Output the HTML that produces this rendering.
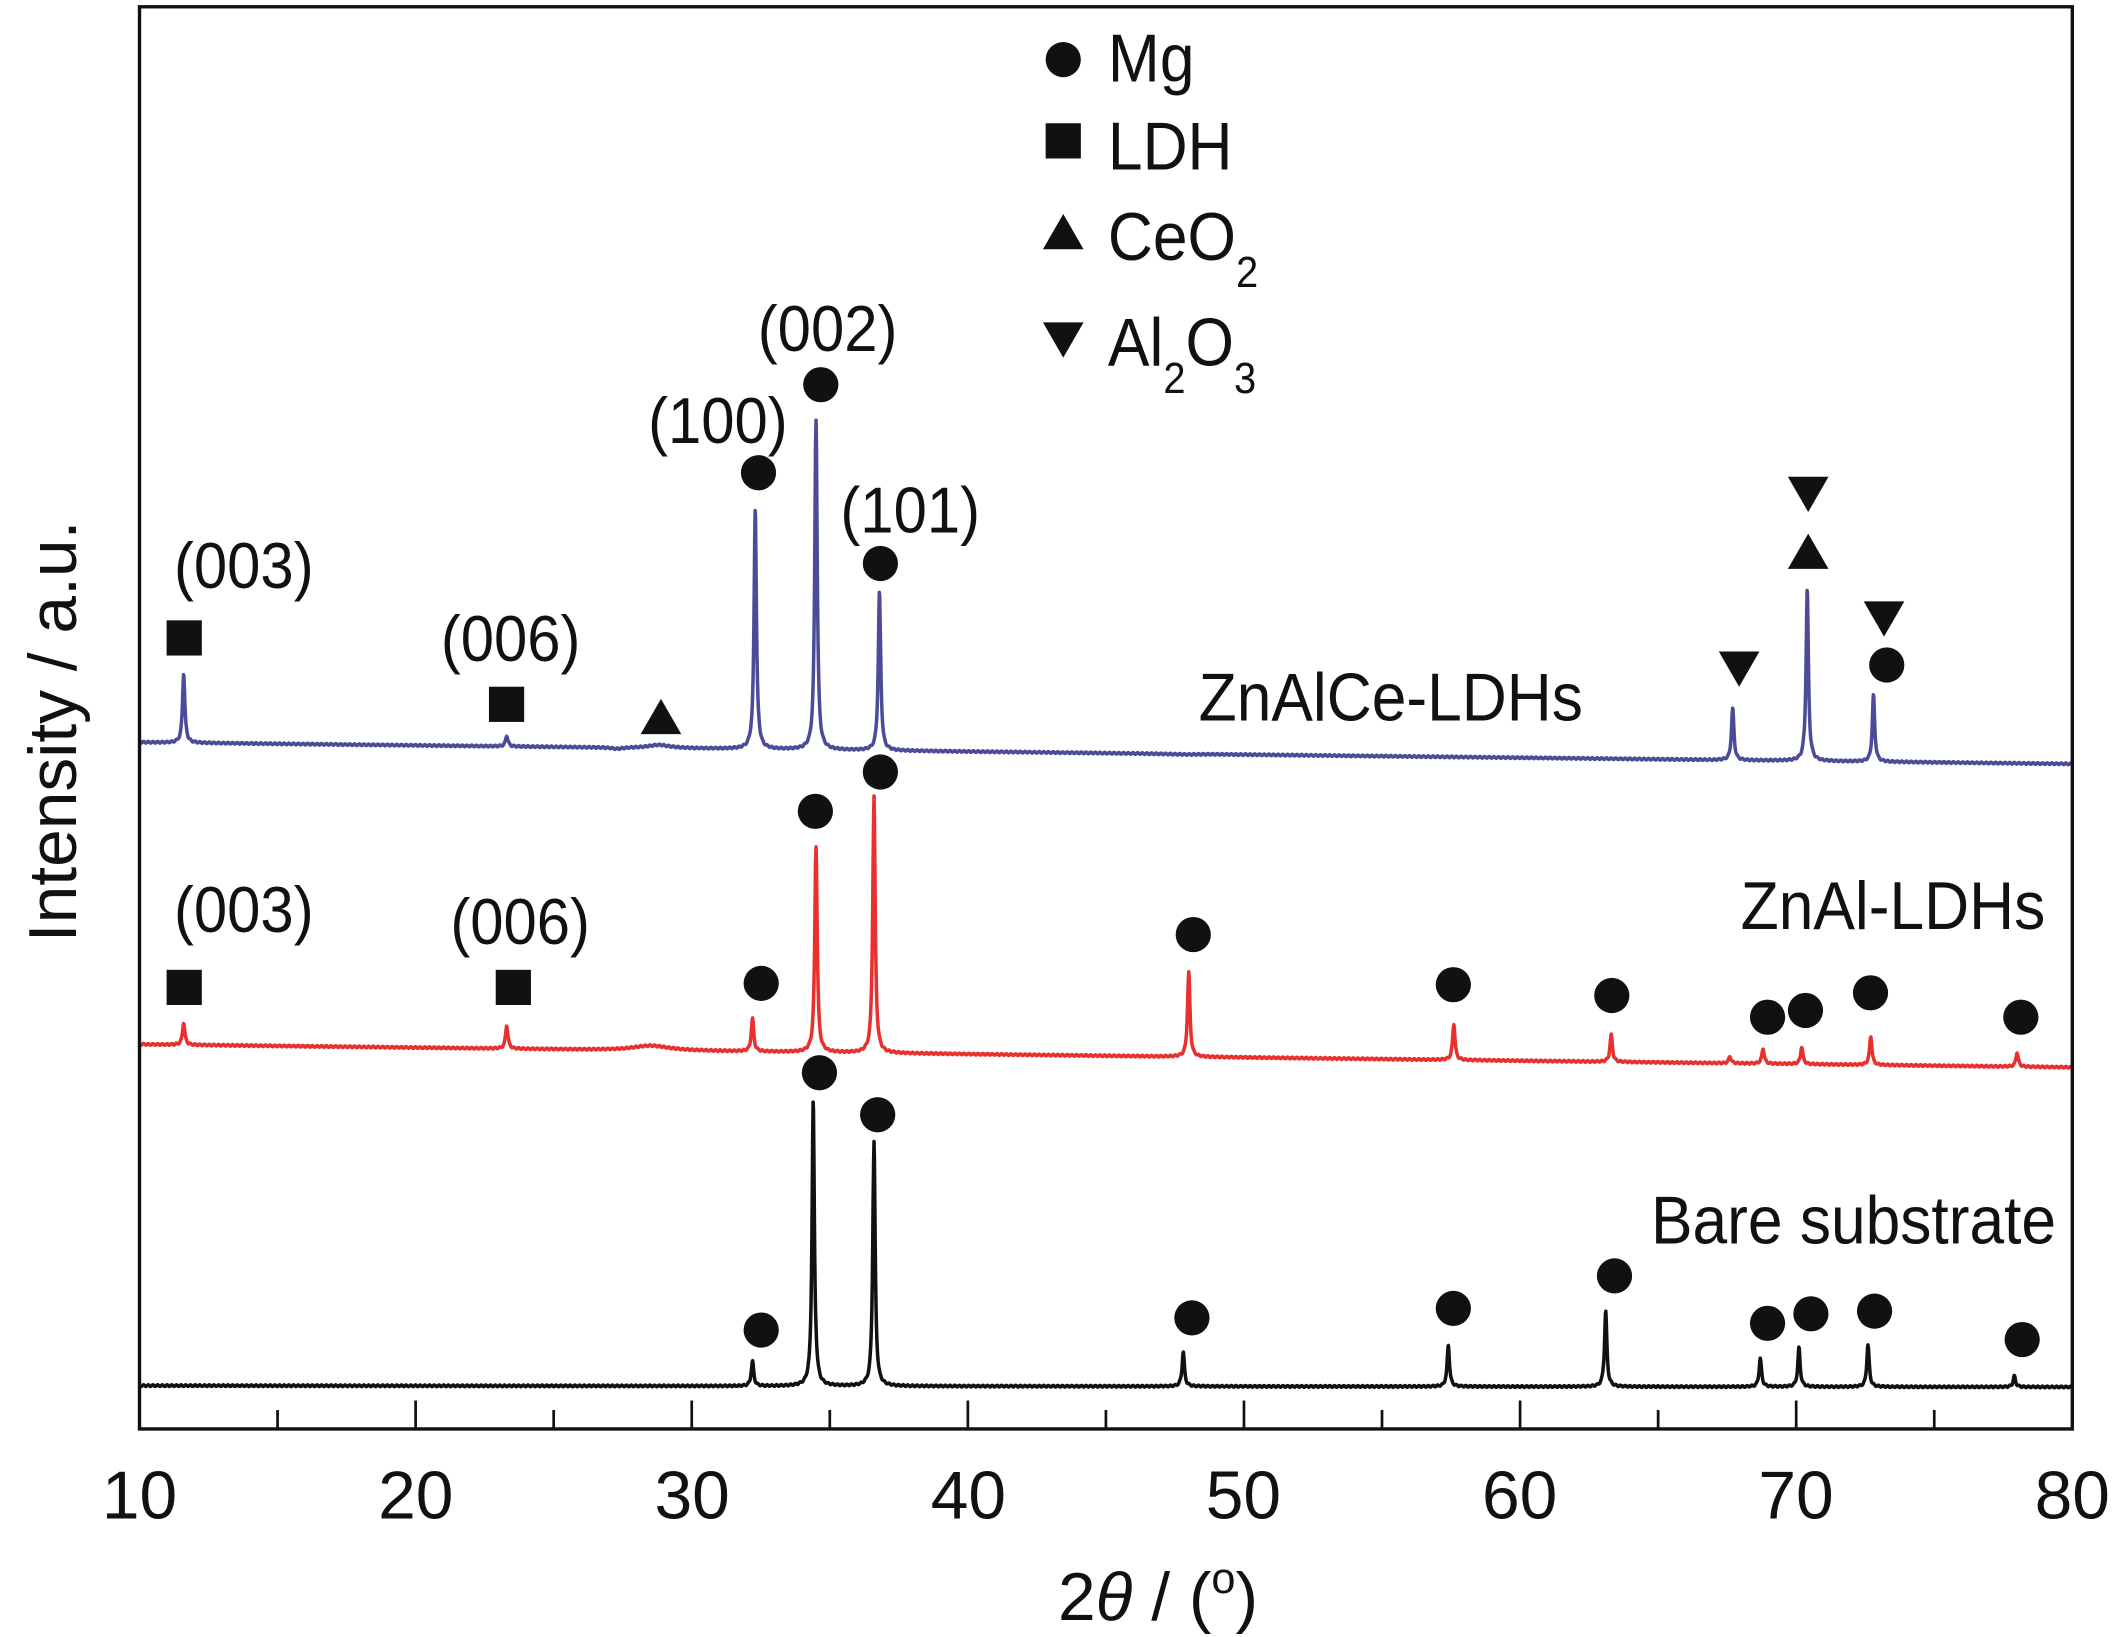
<!DOCTYPE html>
<html><head><meta charset="utf-8"><style>
html,body{margin:0;padding:0;background:#fff;}
svg{display:block;}
text{font-family:"Liberation Sans Narrow","Liberation Sans",sans-serif;fill:#111;}
</style></head><body>
<svg id="s" width="2117" height="1637" viewBox="0 0 1563 1208.6" xmlns="http://www.w3.org/2000/svg">
<rect x="0" y="0" width="1563" height="1209" fill="#fff"/>
<g id="curves"></g>
<rect x="103" y="5" width="1427" height="1050" fill="none" stroke="#111" stroke-width="2.5"/>
<g id="ticks" stroke="#111" stroke-width="2"></g>
<g font-size="50" text-anchor="middle">
<text x="103" y="1121">10</text><text x="307" y="1121">20</text><text x="511" y="1121">30</text><text x="715" y="1121">40</text><text x="918" y="1121">50</text><text x="1122" y="1121">60</text><text x="1326" y="1121">70</text><text x="1530" y="1121">80</text>
<text x="855" y="1196">2<tspan font-style="italic">θ</tspan> / (<tspan dy="-20" font-size="32">o</tspan><tspan dy="20">)</tspan></text>
<text transform="translate(56,540) rotate(-90)">Intensity / a.u.</text>
</g>
<g font-size="48" text-anchor="middle">
<text transform="translate(180,434) scale(0.92,1)">(003)</text><text transform="translate(377,488) scale(0.92,1)">(006)</text>
<text transform="translate(530,327) scale(0.92,1)">(100)</text><text transform="translate(611,259) scale(0.92,1)">(002)</text><text transform="translate(672,393) scale(0.92,1)">(101)</text>
<text transform="translate(180,688) scale(0.92,1)">(003)</text><text transform="translate(384,697) scale(0.92,1)">(006)</text>
</g>
<g font-size="50">
<text transform="translate(885,532) scale(0.92,1)">ZnAlCe-LDHs</text>
<text transform="translate(1510,686) scale(0.92,1)" text-anchor="end">ZnAl-LDHs</text>
<text transform="translate(1518,918) scale(0.92,1)" text-anchor="end">Bare substrate</text>
<text transform="translate(818,60) scale(0.92,1)">Mg</text>
<text transform="translate(818,125) scale(0.92,1)">LDH</text>
<text transform="translate(818,192) scale(0.92,1)">CeO<tspan dy="20" font-size="32">2</tspan></text>
<text transform="translate(818,270) scale(0.92,1)">Al<tspan dy="20" font-size="32">2</tspan><tspan dy="-20">O</tspan><tspan dy="20" font-size="32">3</tspan></text>
</g>
<g id="marks" fill="#111"></g>
</svg>
<script>
var NS="http://www.w3.org/2000/svg";
function X(t){return 103+(t-10)*1427/70;}
function el(p,n,a){var e=document.createElementNS(NS,n);for(var k in a)e.setAttribute(k,a[k]);p.appendChild(e);return e;}
var tk=document.getElementById('ticks');
for(var t=15;t<80;t+=5){var L=(t%10==0)?21:14;el(tk,'line',{x1:X(t),x2:X(t),y1:1055,y2:1055-L});}
function curve(b0,b1,peaks,col){
 var d="";
 for(var t=10.05;t<=80;t+=0.015){
  var b=b0+(b1-b0)*(t-10)/70;var y=b;
  for(var i=0;i<peaks.length;i++){var p=peaks[i];var w=p[2]||0.065;var u=(t-p[0])/w;y-=(b-p[1])/(1+u*u*1.6);}
  y+=Math.sin(t*37)*0.6;
  d+=(d?"L":"M")+X(t).toFixed(1)+","+y.toFixed(1);
 }
 el(document.getElementById('curves'),'path',{d:d,fill:'none',stroke:col,'stroke-width':2.6,'stroke-linejoin':'round'});
}
curve(1023,1024,[[32.2,1005],[34.4,812],[36.6,843],[47.8,998],[57.4,993],[63.1,968],[68.7,1003],[70.1,995],[72.6,993],[77.9,1016]],'#111');
curve(771,788,[[11.6,755],[23.3,757],[28.5,772,1],[32.2,752],[34.5,625],[36.6,588],[48,718],[57.6,756],[63.3,764],[67.6,780],[68.8,774],[70.2,773],[72.7,765],[78,777]],'#e8302e');
curve(548,564,[[11.6,497],[23.3,543],[27.3,553,0.3],[28.8,550,0.6],[32.3,375],[34.5,310],[36.8,437],[48,557,0.8],[67.7,523],[70.4,435],[72.8,513]],'#4b4b98');
var m=document.getElementById('marks');
function C(x,y){el(m,'circle',{cx:x,cy:y,r:13});}
function S(x,y){el(m,'rect',{x:x-13,y:y-13,width:26,height:26});}
function U(x,y){el(m,'polygon',{points:(x-15)+","+(y+12)+" "+(x+15)+","+(y+12)+" "+x+","+(y-14)});}
function D(x,y){el(m,'polygon',{points:(x-15)+","+(y-12)+" "+(x+15)+","+(y-12)+" "+x+","+(y+14)});}
S(136,471);S(374,520);U(488,530);C(560,349);C(606,284);C(650,416);D(1284,493);D(1335,364);U(1335,408);D(1391,456);C(1393,491);
S(136,729);S(379,729);[[562,726],[602,599],[650,570],[881,690],[1073,727],[1190,735],[1305,751],[1333,746],[1381,733],[1492,751]].forEach(function(p){C(p[0],p[1]);});
[[562,982],[605,792],[648,823],[880,973],[1073,966],[1192,942],[1305,977],[1337,970],[1384,968],[1493,989]].forEach(function(p){C(p[0],p[1]);});
C(785,44);S(785,104);U(785,172);D(785,250);
</script>
</body></html>
